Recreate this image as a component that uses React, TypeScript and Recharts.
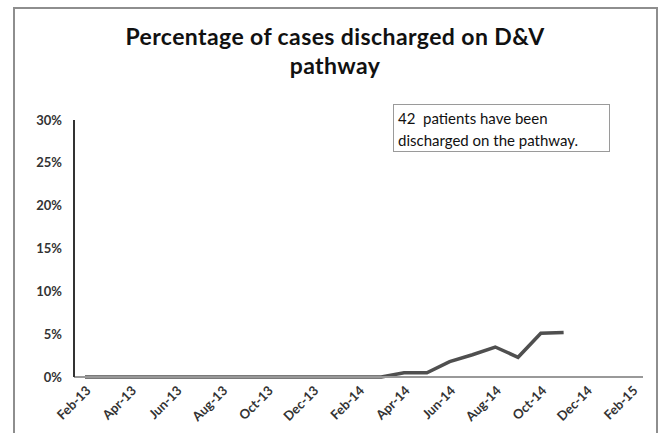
import { Line, LineChart, XAxis, YAxis } from "recharts";

const months = [
  "Feb-13", "Mar-13", "Apr-13", "May-13", "Jun-13", "Jul-13", "Aug-13", "Sep-13",
  "Oct-13", "Nov-13", "Dec-13", "Jan-14", "Feb-14", "Mar-14", "Apr-14", "May-14",
  "Jun-14", "Jul-14", "Aug-14", "Sep-14", "Oct-14", "Nov-14", "Dec-14", "Jan-15", "Feb-15",
];

// % of cases discharged on the pathway, null = no data yet
const discharged = [
  0, 0, 0, 0, 0, 0, 0, 0, 0, 0, 0, 0, 0, 0, 0.5, 0.5,
  1.8, 2.6, 3.5, 2.3, 5.1, 5.2, null, null, null,
];

const yTicks = [0, 5, 10, 15, 20, 25, 30];

const data = months.map((m, i) => ({ month: m, value: discharged[i] }));

const font = "Lato, 'Noto Sans', sans-serif";

const App = () => {
  return (
    <div style={{ position: "absolute", left: 0, top: 0, width: 659, height: 433, background: "#fff", overflow: "hidden", fontFamily: font }}>
      <div
        style={{
          position: "absolute",
          left: 13,
          top: 7,
          width: 641,
          height: 440,
          border: "2px solid #8e8e8e",
          borderBottom: "none",
        }}
      />
      <div
        style={{
          position: "absolute",
          left: 0,
          width: 670,
          top: 22,
          textAlign: "center",
          fontWeight: 700,
          fontSize: 23,
          letterSpacing: 0.4,
          lineHeight: "29px",
          color: "#111",
        }}
      >
        Percentage of cases discharged on D&amp;V
        <br />
        pathway
      </div>
      <LineChart
        width={659}
        height={433}
        data={data}
        margin={{ top: 120, right: 16, bottom: 0, left: 0 }}
        style={{ position: "absolute", left: 0, top: 0 }}
      >
        <XAxis
          dataKey="month"
          interval={1}
          height={56}
          padding={{ left: 11, right: 11 }}
          stroke="#999"
          strokeWidth={2}
          tickLine={false}
          tickSize={0}
          tickMargin={8}
          angle={-45}
          textAnchor="end"
          tick={{ fill: "#333", fontSize: 13, fontWeight: 700, fontFamily: font }}
        />
        <YAxis
          width={74}
          domain={[0, 30]}
          ticks={yTicks}
          stroke="#333"
          strokeWidth={2}
          tickLine={false}
          tickSize={0}
          tickMargin={12}
          tickFormatter={(v) => `${v}%`}
          tick={{ fill: "#333", fontSize: 13, fontWeight: 700, fontFamily: font }}
        />
        <Line
          type="linear"
          dataKey="value"
          stroke="#4f4f4f"
          strokeWidth={3.5}
          dot={false}
          isAnimationActive={false}
        />
      </LineChart>
      <div
        style={{
          position: "absolute",
          left: 393,
          top: 104,
          width: 217,
          height: 48,
          border: "1px solid #9a9a9a",
          padding: "2px 0 0 4px",
          boxSizing: "border-box",
          fontSize: 15,
          lineHeight: "22px",
          color: "#111",
        }}
      >
        42&nbsp; patients have been
        <br />
        discharged on the pathway.
      </div>
    </div>
  );
};

export default App;
